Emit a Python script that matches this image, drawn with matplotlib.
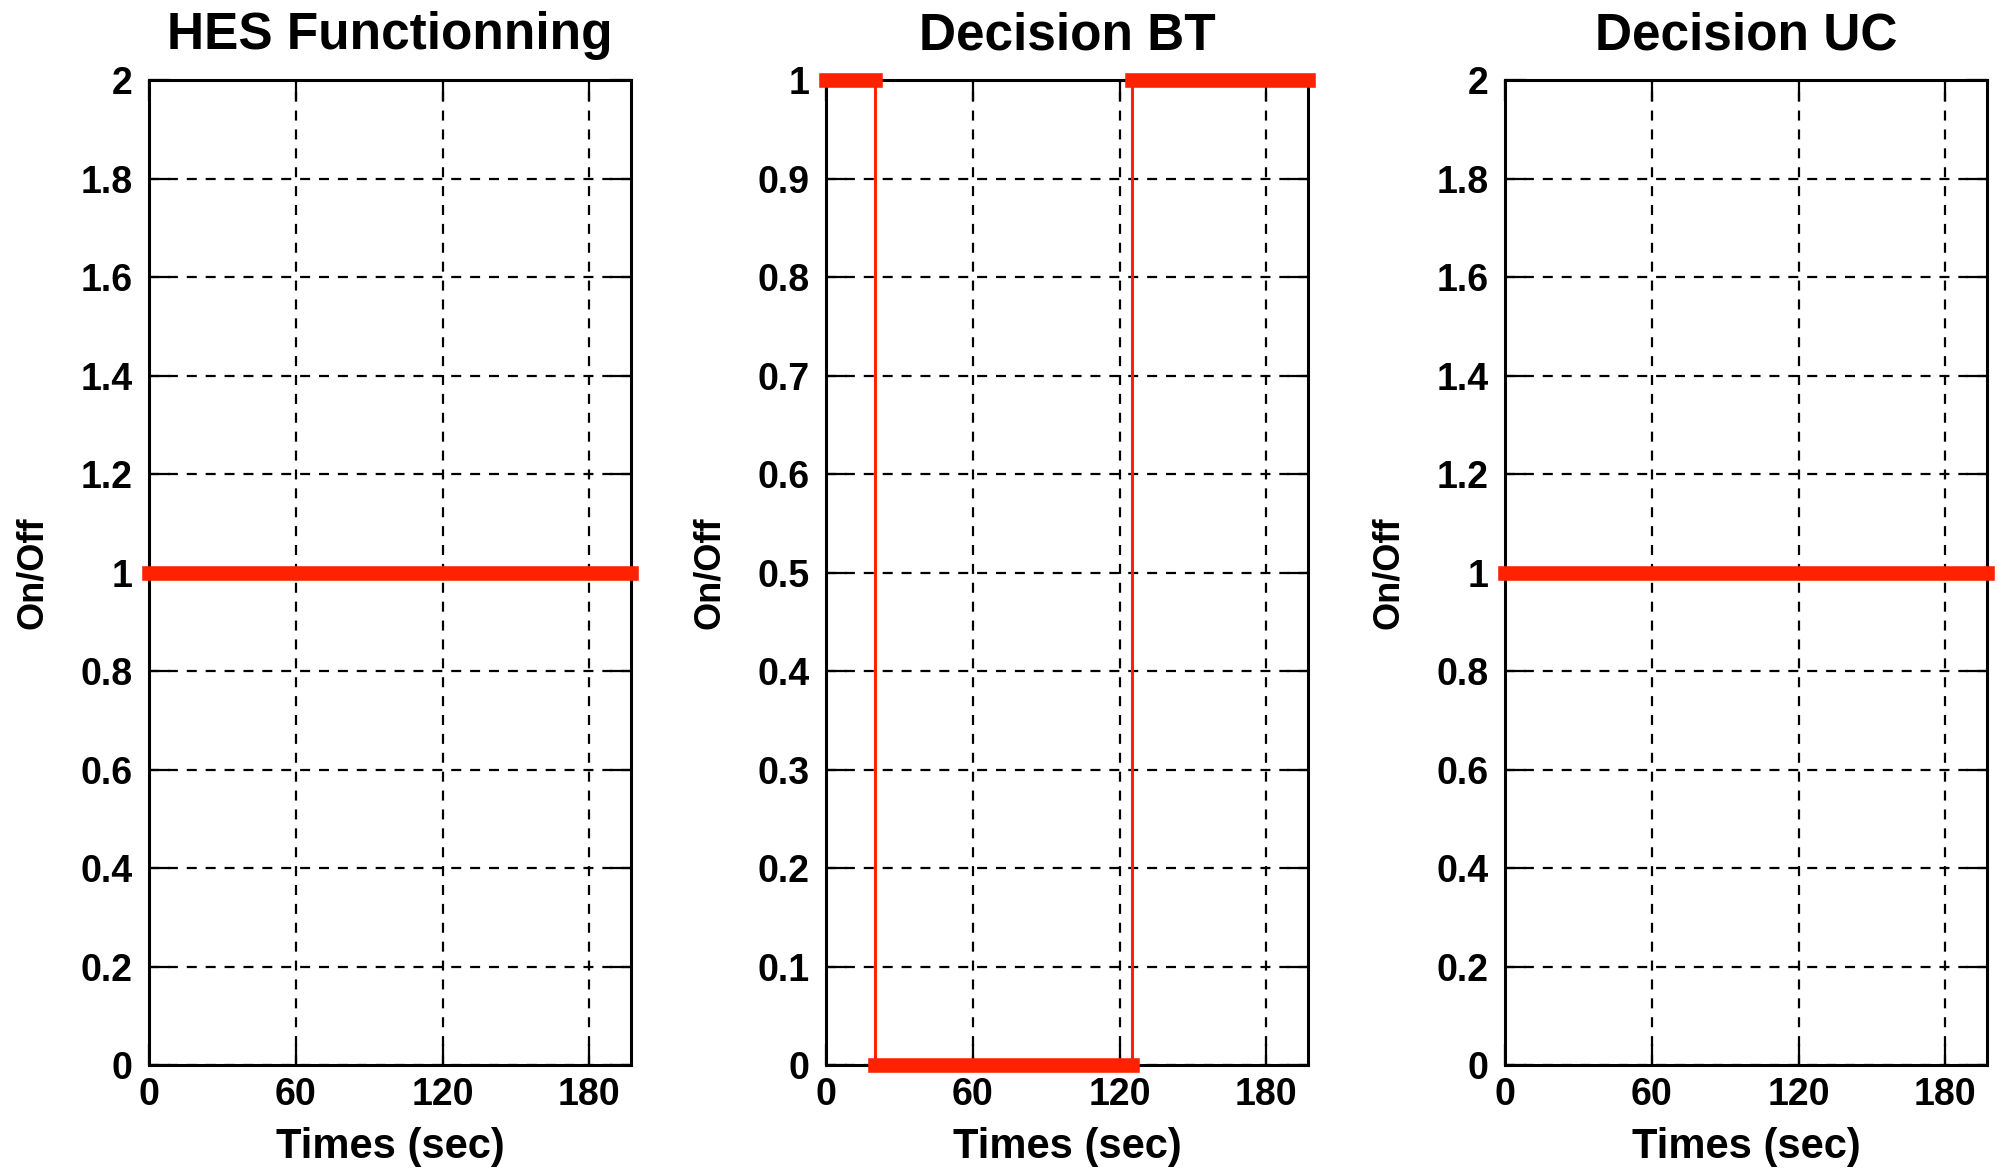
import numpy as np
import matplotlib
matplotlib.use('Agg')
import matplotlib.pyplot as plt

# time base (sec) and on/off states (step, held until next time)
t_hes   = [0, 197]
s_hes   = [1, 1]
t_bt    = [0, 20, 125, 197]
s_bt    = [1, 0, 1, 1]
t_uc    = [0, 197]
s_uc    = [1, 1]

titles  = ['HES Functionning', 'Decision BT', 'Decision UC']
xticks  = [0, 60, 120, 180]
yticks_2 = np.round(np.arange(0, 2.01, 0.2), 1)
yticks_1 = np.round(np.arange(0, 1.01, 0.1), 1)

RED = '#ff2200'

plt.rcParams['font.family'] = ['Liberation Sans', 'DejaVu Sans']
plt.rcParams['font.weight'] = 'bold'

fig = plt.figure(figsize=(19.98, 11.72), dpi=100)
lefts = [0.0746, 0.4134, 0.7533]
panels = [(t_hes, s_hes, yticks_2, (0, 2)),
          (t_bt, s_bt, yticks_1, (0, 1)),
          (t_uc, s_uc, yticks_2, (0, 2))]

for i, (t, s, yt, ylim) in enumerate(panels):
    ax = fig.add_axes([lefts[i], 0.0913, 0.2412, 0.8404])
    # thin step trace
    ax.step(t, s, where='post', color=RED, lw=2.2, zorder=3, clip_on=False)
    # thick horizontal segments
    for k in range(len(t) - 1):
        ax.plot([t[k], t[k + 1]], [s[k], s[k]], color=RED, lw=10.5,
                solid_capstyle='projecting', zorder=4, clip_on=False)
    ax.set_xlim(0, 197)
    ax.set_ylim(*ylim)
    ax.set_xticks(xticks)
    ax.set_yticks(yt)
    ax.set_yticklabels([f'{v:g}' for v in yt])
    ax.grid(True, color='k', linestyle=(0, (4.5, 4)), lw=1.6)
    ax.tick_params(direction='in', length=15, width=1.6, top=True, right=True,
                   labelsize=27)
    ax.tick_params(axis='x', pad=9)
    ax.tick_params(axis='y', pad=12)
    for sp in ax.spines.values():
        sp.set_linewidth(2.2)
    ax.set_title(titles[i], fontsize=37, fontweight='bold', pad=22)
    ax.set_xlabel('Times (sec)', fontsize=30, fontweight='bold', labelpad=10)
    ax.set_ylabel('On/Off', fontsize=26, fontweight='bold')
    ax.yaxis.set_label_coords(-0.205, 0.5)

fig.savefig('out.png', dpi=100)
